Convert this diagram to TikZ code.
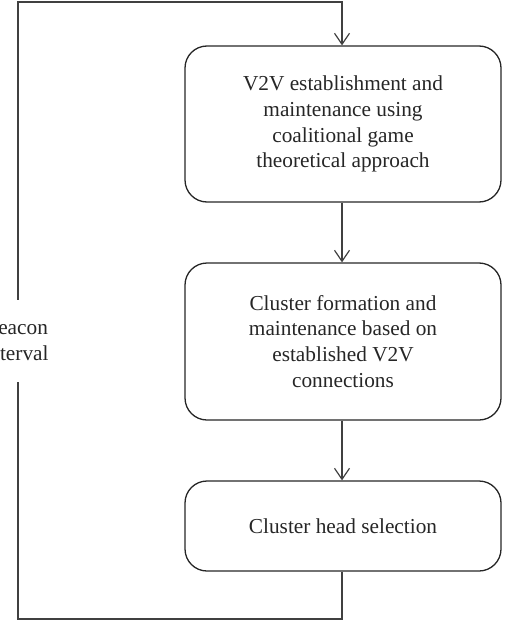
\documentclass[tikz,border=0pt]{standalone}
\usepackage{fontspec}
\setmainfont{Liberation Serif}
\usetikzlibrary{arrows.meta}
\begin{document}
\begin{tikzpicture}[x=1pt,y=-1pt,
  stepbox/.style={draw=black!85, line width=1.3pt, rounded corners=22pt,
    minimum width=316pt, align=center, inner sep=0pt,
    font=\fontsize{21.3}{25.8}\selectfont, text=black!85},
  conn/.style={draw=black!75, line width=1.2pt},
  arr/.style={conn, -{Straight Barb[length=11pt,width=15pt,line width=1.2pt]}}]
\useasboundingbox (0,0) rectangle (504,623);
\node[stepbox, minimum height=156pt] (b1) at (343,124)
  {V2V establishment and\\maintenance using\\coalitional game\\theoretical approach};
\node[stepbox, minimum height=157pt] (b2) at (343,341.5)
  {Cluster formation and\\maintenance based on\\established V2V\\connections};
\node[stepbox, minimum height=90pt] (b3) at (343,526)
  {Cluster head selection};
\coordinate (c1) at (342,619);
\coordinate (c2) at (18,619);
\coordinate (c3) at (18,2);
\coordinate (c4) at (342,2);
\draw[arr] (b1.south -| 342,0) -- (b2.north -| 342,0);
\draw[arr] (b2.south -| 342,0) -- (b3.north -| 342,0);
\draw[arr] (b3.south -| 342,0) -- (c1) -- (c2) -- (c3) -- (c4) -- (b1.north -| 342,0);
\node[fill=white, align=center, inner sep=0pt, minimum height=82pt,
  font=\fontsize{21.3}{25.8}\selectfont, text=black!85] (lab) at (16,341)
  {Beacon\\interval};
\end{tikzpicture}
\end{document}
